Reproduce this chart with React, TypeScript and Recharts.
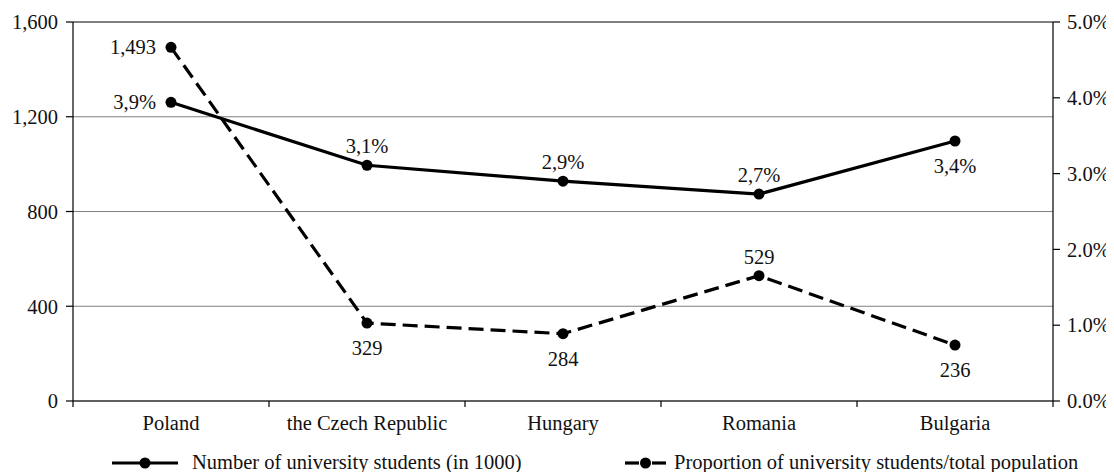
import { LineChart, Line, XAxis, YAxis, CartesianGrid, LabelList, ReferenceLine } from 'recharts';

// Data
const countries = ['Poland', 'the Czech Republic', 'Hungary', 'Romania', 'Bulgaria'];
const students = [1493, 329, 284, 529, 236]; // thousands, left axis (dashed)
const proportion = [3.94, 3.11, 2.9, 2.73, 3.43]; // %, right axis (solid)
const proportionLabels = ['3,9%', '3,1%', '2,9%', '2,7%', '3,4%'];
const leftTicks = [0, 400, 800, 1200, 1600];
const rightTicks = [0, 1, 2, 3, 4, 5];
const xTicks = [0, 0.5, 1, 1.5, 2, 2.5, 3, 3.5, 4, 4.5, 5];

// label placement per point: left / above / below
const studentsPlace = ['left', 'below', 'below', 'above', 'below'];
const proportionPlace = ['left', 'above', 'above', 'above', 'below'];

const FONT = '"Liberation Serif", "Times New Roman", serif';
const FS = 20.5;

const data = countries.map((c, i) => ({
  name: c,
  pos: i + 0.5,
  students: students[i],
  proportion: proportion[i],
}));

function makeLabel(place: string[], fmt: (i: number, v: number) => string) {
  return (props: any) => {
    const { x, y, value, index } = props;
    const p = place[index];
    let tx = x;
    let ty = y + 7;
    let anchor: 'start' | 'middle' | 'end' = 'middle';
    if (p === 'left') {
      tx = x - 15;
      anchor = 'end';
    } else if (p === 'above') {
      ty = y - 19 + 7;
    } else {
      ty = y + 25 + 7;
    }
    return (
      <text x={tx} y={ty} textAnchor={anchor} fontFamily={FONT} fontSize={FS} fill="#111">
        {fmt(index, value)}
      </text>
    );
  };
}

function XTick(props: any) {
  const { x, y, payload } = props;
  const v = payload.value as number;
  if (Number.isInteger(v)) {
    return <line x1={x} x2={x} y1={y} y2={y + 6} stroke="#000" strokeWidth={1.2} />;
  }
  const label = countries[Math.floor(v)];
  return (
    <text x={x} y={y + 29} textAnchor="middle" fontFamily={FONT} fontSize={FS} fill="#111">
      {label}
    </text>
  );
}

const tickStyle = { fontFamily: FONT, fontSize: FS, fill: '#111' };

export default function App() {
  return (
    <div style={{ width: 1106, fontFamily: FONT }}>
      <LineChart
        width={1106}
        height={430}
        data={data}
        margin={{ top: 14, right: 0, bottom: 0, left: 0 }}
        style={{ overflow: 'visible' }}
      >
        <CartesianGrid yAxisId="left" vertical={false} stroke="#808080" strokeWidth={1} />
        <XAxis
          dataKey="pos"
          type="number"
          domain={[0, 5]}
          ticks={xTicks}
          interval={0}
          tick={<XTick />}
          tickLine={false}
          tickSize={0}
          tickMargin={0}
          height={37}
          axisLine={{ stroke: '#000', strokeWidth: 1.2 }}
        />
        <YAxis
          yAxisId="left"
          domain={[0, 1600]}
          ticks={leftTicks}
          interval={0}
          width={65}
          tickSize={7}
          tickMargin={8}
          tick={tickStyle}
          tickFormatter={(v: number) => v.toLocaleString('en-US')}
          axisLine={{ stroke: '#000', strokeWidth: 1.2 }}
          tickLine={{ stroke: '#000', strokeWidth: 1.2 }}
        />
        <YAxis
          yAxisId="right"
          orientation="right"
          domain={[0, 5]}
          ticks={rightTicks}
          interval={0}
          width={61}
          tickSize={7}
          tickMargin={7}
          tick={tickStyle}
          tickFormatter={(v: number) => `${v.toFixed(1)}%`}
          axisLine={{ stroke: '#000', strokeWidth: 1.2 }}
          tickLine={{ stroke: '#000', strokeWidth: 1.2 }}
        />
        <ReferenceLine yAxisId="left" y={1600} stroke="#404040" strokeWidth={1.2} />
        <Line
          yAxisId="right"
          dataKey="proportion"
          stroke="#000"
          strokeWidth={3.2}
          dot={{ r: 5.5, fill: '#000', stroke: '#000', strokeWidth: 0 }}
          isAnimationActive={false}
        >
          <LabelList dataKey="proportion" content={makeLabel(proportionPlace, (i) => proportionLabels[i])} />
        </Line>
        <Line
          yAxisId="left"
          dataKey="students"
          stroke="#000"
          strokeWidth={3.2}
          strokeDasharray="15 7"
          dot={{ r: 5.5, fill: '#000', stroke: '#000', strokeWidth: 0 }}
          isAnimationActive={false}
        >
          <LabelList
            dataKey="students"
            content={makeLabel(studentsPlace, (_i, v) => v.toLocaleString('en-US'))}
          />
        </Line>
      </LineChart>

      {/* legend, styles swapped exactly as in the source figure */}
      <div style={{ position: 'relative', height: 34, fontSize: FS, color: '#111' }}>
        <svg width={70} height={14} style={{ position: 'absolute', left: 104, top: 18 }}>
          <line x1={0} x2={66} y1={7} y2={7} stroke="#000" strokeWidth={3.2} />
          <circle cx={33} cy={7} r={5.5} fill="#000" />
        </svg>
        <span style={{ position: 'absolute', left: 184, top: 11, whiteSpace: 'nowrap', lineHeight: '26px' }}>
          Number of university students (in 1000)
        </span>
        <svg width={44} height={14} style={{ position: 'absolute', left: 617, top: 18 }}>
          <line x1={0} x2={14} y1={7} y2={7} stroke="#000" strokeWidth={3.2} />
          <line x1={27} x2={41} y1={7} y2={7} stroke="#000" strokeWidth={3.2} />
          <circle cx={20.5} cy={7} r={5.5} fill="#000" />
        </svg>
        <span style={{ position: 'absolute', left: 666, top: 11, whiteSpace: 'nowrap', lineHeight: '26px' }}>
          Proportion of university students/total population
        </span>
      </div>
    </div>
  );
}
